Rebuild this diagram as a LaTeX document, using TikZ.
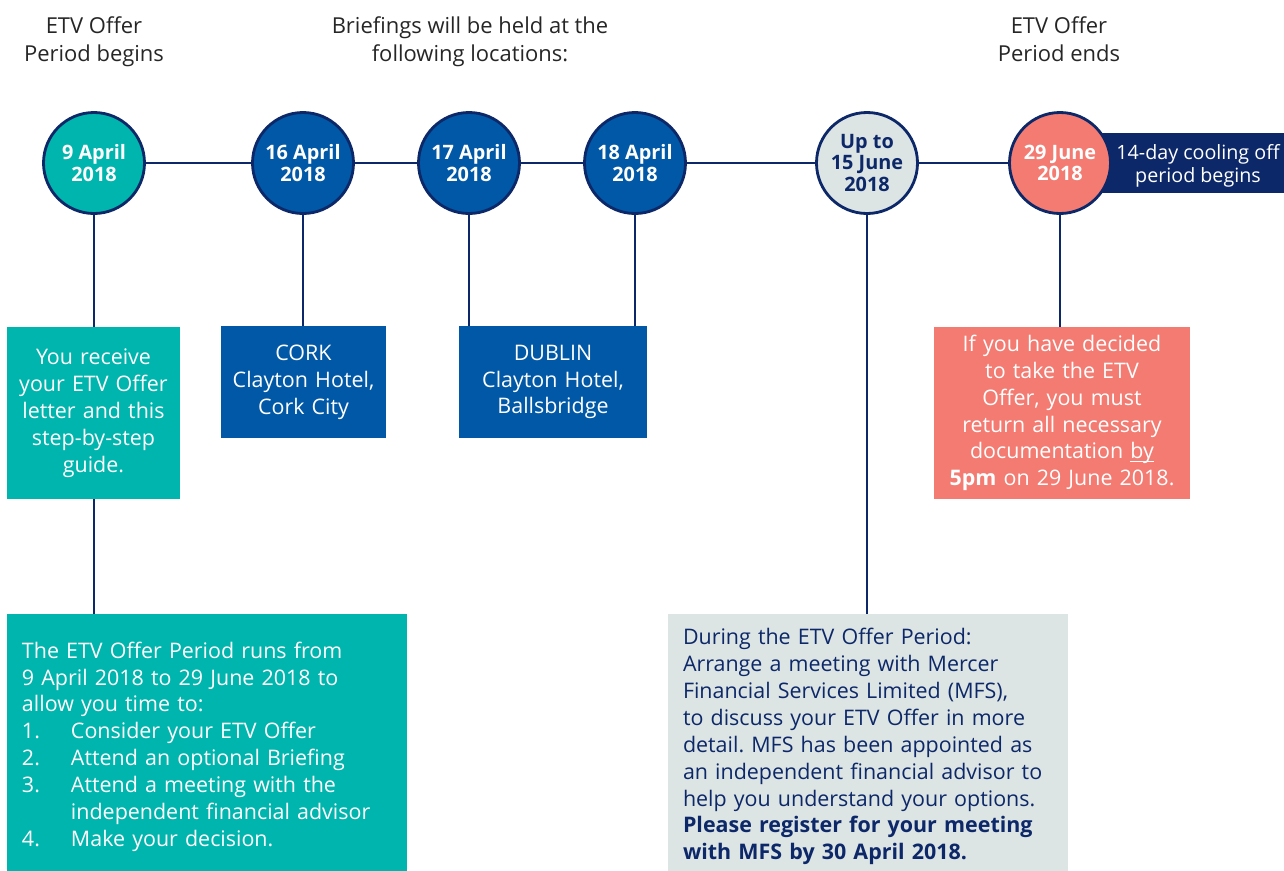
\documentclass[tikz,border=0pt]{standalone}
\usepackage{fontspec}
\setmainfont{Open Sans}
\usetikzlibrary{positioning}
\definecolor{etvteal}{RGB}{0,181,173}
\definecolor{etvblue}{RGB}{0,88,166}
\definecolor{etvnavy}{RGB}{12,40,104}
\definecolor{etvgrey}{RGB}{221,228,228}
\definecolor{etvsalmon}{RGB}{243,123,113}
\newcommand{\itm}[1]{\makebox[9.8mm][l]{#1}}
\newcommand{\lowline}[1]{\setbox0\hbox{#1}\rlap{\rule[-1.6pt]{\wd0}{0.6pt}}#1}
\frenchspacing
\tikzset{
  datecirc/.style={circle, draw=etvnavy, line width=1.6pt, minimum size=20.2mm, inner sep=0pt,
    align=center, font=\fontsize{11.3pt}{12.2pt}\selectfont\bfseries, text=white},
  infobox/.style={inner xsep=1mm, inner ysep=0pt, font=\fontsize{12.2pt}{15.3pt}\selectfont},
  head/.style={align=center, anchor=north, inner sep=0pt, font=\fontsize{12.5pt}{16pt}\selectfont, text=black!85},
  tline/.style={etvnavy, line width=1.4pt}
}
\begin{document}
\begin{tikzpicture}[x=0.2mm, y=-0.2mm]
\useasboundingbox (0,0) rectangle (1284,871);
% headings
\node[head] (hbegin) at (94,16) {ETV Offer\\Period begins};
\node[head] (hbrief) at (470,16) {Briefings will be held at the\\following locations:};
\node[head] (hend) at (1059,16) {ETV Offer\\Period ends};
% cooling off box behind last circle
\node[fill=etvnavy, minimum width=40mm, minimum height=12mm, inner sep=0pt] (cool) at (1184,162.5) {};
\node[align=center, text=white, font=\fontsize{11.2pt}{13.2pt}\selectfont] (cooltxt) at (1198,166) {14-day cooling off\\period begins};
% dates
\node[datecirc, fill=etvteal] (apr9) at (94,163) {9 April\\2018};
\node[datecirc, fill=etvblue] (apr16) at (303,163) {16 April\\2018};
\node[datecirc, fill=etvblue] (apr17) at (469,163) {17 April\\2018};
\node[datecirc, fill=etvblue] (apr18) at (635,163) {18 April\\2018};
\node[datecirc, fill=etvgrey, text=etvnavy] (jun15) at (867,163) {Up to\\15 June\\2018};
\node[datecirc, fill=etvsalmon] (jun29) at (1060,163) {29 June\\2018};
\draw[tline] (apr9) -- (apr16);
\draw[tline] (apr16) -- (apr17);
\draw[tline] (apr17) -- (apr18);
\draw[tline] (apr18) -- (jun15);
\draw[tline] (jun15) -- (jun29);
% boxes
\node[infobox, fill=etvteal, text=white, minimum width=34.6mm, minimum height=34.4mm,
  text width=32.6mm, align=center] (receive) at (93.5,413)
  {You receive\\your ETV Offer\\letter and this\\step-by-step\\guide.};
\node[infobox, fill=etvteal, text=white, minimum width=80mm, minimum height=51.4mm,
  text width=74mm, inner xsep=3mm, align=left] (runs) at (207,742.5)
  {\rule{0pt}{14pt}The ETV Offer Period runs from\\9 April 2018 to 29 June 2018 to\\allow you time to:\\
   \itm{1.}Consider your ETV Offer\\\itm{2.}Attend an optional Briefing\\
   \itm{3.}Attend a meeting with the\\\itm{}independent financial advisor\\
   \itm{4.}Make your decision.};
\node[infobox, fill=etvblue, text=white, minimum width=33mm, minimum height=22.4mm,
  text width=31mm, align=center] (cork) at (303.5,382)
  {CORK\\Clayton Hotel,\\Cork City};
\node[infobox, fill=etvblue, text=white, minimum width=37.6mm, minimum height=22.4mm,
  text width=35.6mm, align=center] (dublin) at (553,382)
  {DUBLIN\\Clayton Hotel,\\Ballsbridge};
\node[infobox, fill=etvgrey, text=etvnavy, minimum width=80mm, minimum height=51.4mm,
  text width=74mm, inner xsep=3mm, align=left] (mfs) at (868,742.5)
  {\rule{0pt}{14pt}During the ETV Offer Period:\\Arrange a meeting with Mercer\\Financial Services Limited (MFS),\\
   to discuss your ETV Offer in more\\detail. MFS has been appointed as\\
   an independent financial advisor to\\help you understand your options.\\
   \textbf{Please register for your meeting}\\\textbf{with MFS by 30 April 2018.}};
\node[infobox, fill=etvsalmon, text=white, minimum width=51.2mm, minimum height=34.4mm,
  text width=49.2mm, align=center] (decide) at (1062,413)
  {If you have decided\\to take the ETV\\Offer, you must\\return all necessary\\
   documentation \lowline{by}\\\textbf{5pm} on 29 June 2018.};
% connectors
\draw[tline] (apr9) -- (apr9 |- receive.north);
\draw[tline] (receive.south -| apr9) -- (runs.north -| apr9);
\draw[tline] (apr16) -- (apr16 |- cork.north);
\draw[tline] (apr17) -- (apr17 |- dublin.north);
\draw[tline] (apr18) -- (apr18 |- dublin.north);
\draw[tline] (jun15) -- (jun15 |- mfs.north);
\draw[tline] (jun29) -- (jun29 |- decide.north);
\end{tikzpicture}
\end{document}
